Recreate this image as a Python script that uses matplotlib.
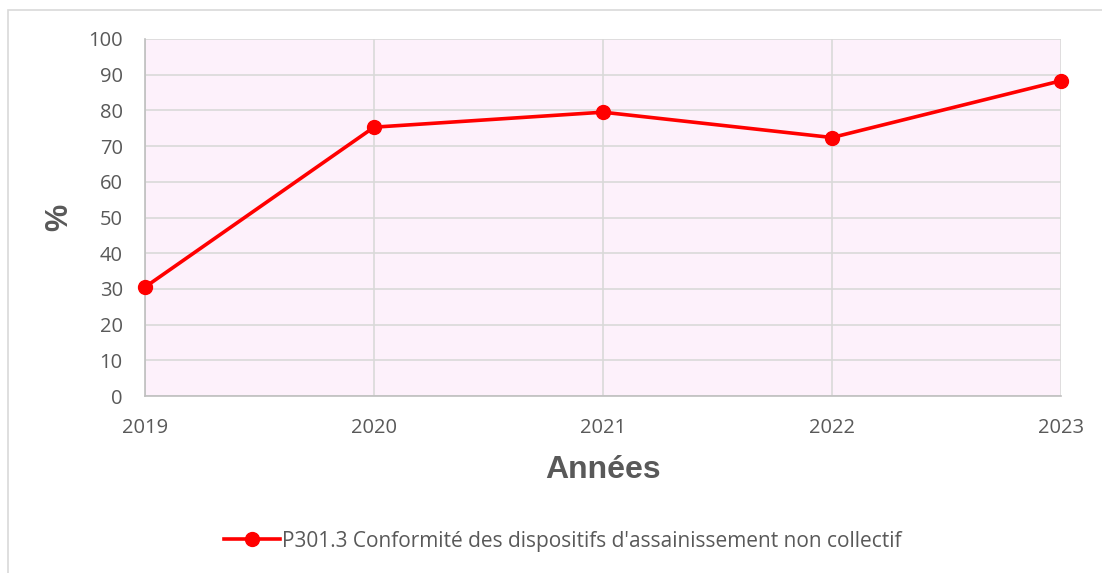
import matplotlib.pyplot as plt
from matplotlib.patches import Rectangle

years = ['2019', '2020', '2021', '2022', '2023']
values = [30.5, 75.3, 79.5, 72.4, 88.3]
yticks = [0, 10, 20, 30, 40, 50, 60, 70, 80, 90, 100]
series_label = "P301.3 Conformité des dispositifs d'assainissement non collectif"

plt.rcParams['font.family'] = ['Open Sans', 'DejaVu Sans']
grey = '#595959'
grid_col = '#d9d9d9'

fig = plt.figure(figsize=(11.02, 5.73), dpi=100)
ax = fig.add_axes([145 / 1102, 1 - 396 / 573, (1061 - 145) / 1102, (396 - 39) / 573])
ax.set_facecolor('#fdf1fb')

# outer chart border (partly cut off like the screenshot)
fig.patches.append(Rectangle((8 / 1102, -0.05), 1.2, 1 - 10 / 573 + 0.05,
                             transform=fig.transFigure, fill=False,
                             edgecolor=grid_col, linewidth=1.2))

x = list(range(len(years)))
ax.plot(x, values, color='#ff0000', linewidth=2.6, marker='o', markersize=10,
        clip_on=False, zorder=5, label=series_label)

ax.set_xlim(0, len(years) - 1)
ax.set_ylim(0, 100)
ax.set_yticks(yticks)
ax.set_xticks(x)
ax.set_xticklabels(years)
ax.grid(True, color=grid_col, linewidth=1.2)
ax.set_axisbelow(True)
for side in ['top', 'right']:
    ax.spines[side].set_visible(False)
for side in ['left', 'bottom']:
    ax.spines[side].set_color('#bfbfbf')
    ax.spines[side].set_linewidth(1.2)
ax.tick_params(axis='both', length=0, labelsize=14.5, colors=grey)
ax.tick_params(axis='y', pad=16)
ax.tick_params(axis='x', pad=16)

ax.set_xlabel('Années', fontsize=23, fontweight='bold', color=grey, labelpad=12,
              family=['Liberation Sans', 'DejaVu Sans'])
ax.set_ylabel('%', fontsize=22, fontweight='bold', color=grey, labelpad=10,
              family=['Liberation Sans', 'DejaVu Sans'])

fig.legend(loc='center', bbox_to_anchor=(563 / 1102, 1 - 541 / 573), frameon=False,
           fontsize=15, labelcolor=grey, handlelength=2.7, handletextpad=0.1)

fig.savefig('out.png', dpi=100)
